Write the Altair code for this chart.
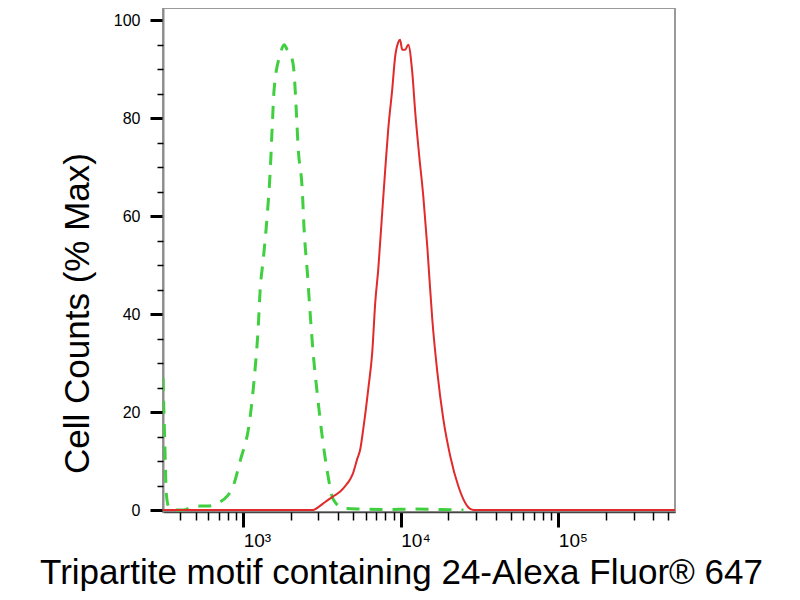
import altair as alt
import pandas as pd

# Green dashed histogram (control)
green_x = [310, 318, 326, 340, 370, 420, 461, 530, 599, 700, 800, 851, 957, 1108, 1192, 1245, 1282,
           1340, 1420, 1484, 1528, 1573, 1718, 1821, 1900, 2047, 2108, 2170, 2234, 2370, 2439, 2548,
           2664, 2782, 2948, 3175, 3414, 3727, 4313, 5500, 8000, 12000, 18000, 25000]
green_y = [27, 14, 3, 0.3, 0, 0, 0.5, 0.8, 0.8, 1.5, 3, 4.3, 10, 19, 29, 37, 45,
           51, 60, 69, 78, 86, 93, 95, 94, 92, 89, 82, 74, 65.5, 57, 49,
           40, 32, 24, 15, 8, 2.2, 0.4, 0.2, 0.1, 0.2, 0.1, 0]

# Red solid histogram (stained)
red_x = [310, 2782, 3000, 3300, 3727, 4130, 4442, 4777, 4990, 5291, 5534, 5781, 6221, 6594, 6891, 7201,
         7629, 7975, 8332, 8831, 9227, 9640, 9900, 10221, 10681, 11160, 11830, 12360, 13110, 13900,
         14730, 15170, 15850, 17060, 18620, 20620, 23180, 26440, 28850, 550000]
red_y = [0, 0, 0.6, 1.6, 2.8, 3.8, 4.9, 6.3, 7.6, 10.4, 12.4, 16.5, 24.7, 32.2, 42.4, 49.2,
         60.8, 69.6, 77.8, 85.9, 92.7, 95.5, 96, 94, 94, 95, 89.4, 81.2, 72.2, 64.1,
         53.9, 47.8, 39, 28.2, 18.6, 11, 4.9, 0.8, 0, 0]

x_major = [1000, 10000, 100000]
x_major_labels = ["10³", "10⁴", "10⁵"]
x_minor = [400, 500, 600, 700, 800, 900,
           2000, 3000, 4000, 5000, 6000, 7000, 8000, 9000,
           20000, 30000, 40000, 50000, 60000, 70000, 80000, 90000,
           200000, 300000, 400000, 500000]
y_major = [0, 20, 40, 60, 80, 100]
y_minor = [5, 10, 15, 25, 30, 35, 45, 50, 55, 65, 70, 75, 85, 90, 95]

x_label_expr = " : ".join(
    f"datum.value == {v} ? '{l}'" for v, l in zip(x_major, x_major_labels)
) + " : ''"

FONT = "Liberation Sans"

x_scale = alt.Scale(type="log", domain=[310, 550000], nice=False)
y_scale = alt.Scale(domain=[-0.4, 102.5], nice=False, zero=False)

x_axis_major = alt.Axis(
    orient="bottom",
    values=x_major,
    labelExpr=x_label_expr,
    labelOverlap=False,
    labelFlush=False,
    labelAlign="left",
    labelBaseline="top",
    labelPadding=4,
    labelFont=FONT,
    labelFontSize=19,
    labelColor="black",
    tickColor="black",
    tickSize=15,
    tickWidth=3,
    domainColor="#444444",
    domainWidth=1.5,
    grid=False,
    title="Tripartite motif containing 24-Alexa Fluor® 647",
    titleFont=FONT,
    titleFontSize=35,
    titleFontWeight="normal",
    titleColor="black",
    titleX=238,
    titleY=71,
    titleAlign="center",
    titleBaseline="alphabetic",
)

x_axis_minor = alt.Axis(
    orient="bottom",
    values=x_minor,
    labels=False,
    domain=False,
    tickColor="black",
    tickSize=8,
    tickWidth=1.5,
    grid=False,
    title=None,
)

y_axis_major = alt.Axis(
    orient="left",
    values=y_major,
    labelOverlap=False,
    labelFlush=False,
    labelPadding=10,
    labelFont=FONT,
    labelFontSize=16,
    labelColor="black",
    tickColor="black",
    tickSize=13,
    tickWidth=3,
    domainColor="#8c8c8c",
    domainWidth=2,
    grid=False,
    title="Cell Counts (% Max)",
    titleFont=FONT,
    titleFontSize=35,
    titleFontWeight="normal",
    titleColor="black",
    titleAngle=270,
    titleX=-86,
    titleY=305,
    titleAlign="center",
    titleBaseline="middle",
)

y_axis_minor = alt.Axis(
    orient="left",
    values=y_minor,
    labels=False,
    domain=False,
    tickColor="black",
    tickSize=6,
    tickWidth=1.5,
    grid=False,
    title=None,
)

green_df = pd.DataFrame({"x": green_x, "y": green_y})
red_df = pd.DataFrame({"x": red_x, "y": red_y})

green = alt.Chart(green_df).mark_line(
    color="#3fcf3f", strokeWidth=3, strokeDash=[13, 10], interpolate="monotone", clip=True
).encode(
    x=alt.X("x:Q", scale=x_scale, axis=x_axis_major),
    y=alt.Y("y:Q", scale=y_scale, axis=y_axis_major),
)

red = alt.Chart(red_df).mark_line(
    color="#e12a2a", strokeWidth=2, interpolate="monotone", clip=True
).encode(
    x=alt.X("x:Q", scale=x_scale, axis=x_axis_minor),
    y=alt.Y("y:Q", scale=y_scale, axis=y_axis_minor),
)

chart = alt.layer(green, red).resolve_axis(
    x="independent", y="independent"
).properties(
    width=512,
    height=504,
    autosize=alt.AutoSizeParams(type="none"),
    padding={"left": 155, "top": 0, "right": 110, "bottom": 80},
    background="white",
).configure_view(stroke="#9a9a9a", strokeWidth=2)

chart.save("out.html", embed_options={"renderer": "svg", "actions": False})
